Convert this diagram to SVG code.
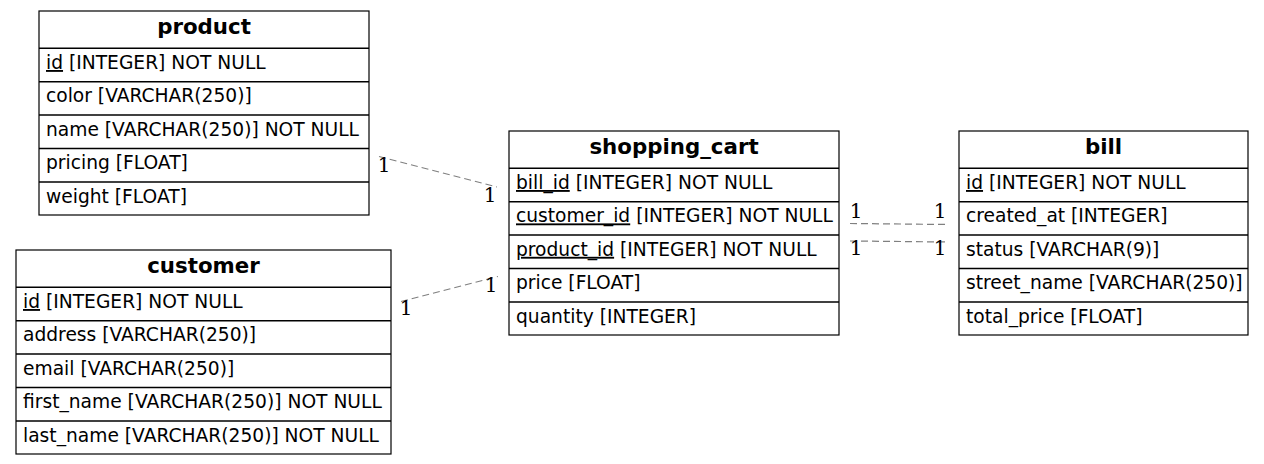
<svg xmlns="http://www.w3.org/2000/svg" width="1264" height="464" viewBox="0 0 1264 464">
<style>
.bg{fill:#ffffff}
.box{fill:#ffffff;stroke:#000000;stroke-width:1.2}
.sep{stroke:#000000;stroke-width:1.5}
.title{font-family:"DejaVu Sans",sans-serif;font-weight:bold;font-size:21.33px;text-anchor:middle;fill:#000}
.row{font-family:"DejaVu Sans",sans-serif;font-size:18.67px;fill:#000}
.key{text-decoration:underline}
.edge{stroke:#808080;stroke-width:1.2;stroke-dasharray:7,4;fill:none}
.card{font-family:"DejaVu Serif",serif;font-size:20px;text-anchor:middle;fill:#000}
</style>
<rect class="bg" x="0" y="0" width="1264" height="464"/>
<g id="connectors">
<line class="edge" x1="379" y1="156.5" x2="497" y2="187"/>
<text class="card" x="384" y="172">1</text>
<text class="card" x="490" y="202">1</text>
<line class="edge" x1="401" y1="301.5" x2="498" y2="276.5"/>
<text class="card" x="406" y="315">1</text>
<text class="card" x="491" y="292">1</text>
<line class="edge" x1="850" y1="223.5" x2="948" y2="224.5"/>
<text class="card" x="856" y="218">1</text>
<text class="card" x="940" y="218">1</text>
<line class="edge" x1="850" y1="241" x2="948" y2="242"/>
<text class="card" x="856" y="255">1</text>
<text class="card" x="940" y="255">1</text>
</g>
<g id="product">
<rect class="box" x="39" y="11" width="330" height="204"/>
<line class="sep" x1="39" y1="48.3" x2="369" y2="48.3"/>
<line class="sep" x1="39" y1="81.7" x2="369" y2="81.7"/>
<line class="sep" x1="39" y1="115.1" x2="369" y2="115.1"/>
<line class="sep" x1="39" y1="148.5" x2="369" y2="148.5"/>
<line class="sep" x1="39" y1="181.9" x2="369" y2="181.9"/>
<text class="title" x="204" y="34">product</text>
<text class="row" x="46" y="69"><tspan class="key">id</tspan> [INTEGER] NOT NULL</text>
<text class="row" x="46" y="102.4">color [VARCHAR(250)]</text>
<text class="row" x="46" y="135.8">name [VARCHAR(250)] NOT NULL</text>
<text class="row" x="46" y="169.2">pricing [FLOAT]</text>
<text class="row" x="46" y="202.6">weight [FLOAT]</text>
</g>
<g id="customer">
<rect class="box" x="16" y="250" width="375" height="204"/>
<line class="sep" x1="16" y1="287.3" x2="391" y2="287.3"/>
<line class="sep" x1="16" y1="320.7" x2="391" y2="320.7"/>
<line class="sep" x1="16" y1="354.1" x2="391" y2="354.1"/>
<line class="sep" x1="16" y1="387.5" x2="391" y2="387.5"/>
<line class="sep" x1="16" y1="420.9" x2="391" y2="420.9"/>
<text class="title" x="203.5" y="273">customer</text>
<text class="row" x="23" y="308"><tspan class="key">id</tspan> [INTEGER] NOT NULL</text>
<text class="row" x="23" y="341.4">address [VARCHAR(250)]</text>
<text class="row" x="23" y="374.8">email [VARCHAR(250)]</text>
<text class="row" x="23" y="408.2">first_name [VARCHAR(250)] NOT NULL</text>
<text class="row" x="23" y="441.6">last_name [VARCHAR(250)] NOT NULL</text>
</g>
<g id="shopping_cart">
<rect class="box" x="509" y="131" width="330" height="204"/>
<line class="sep" x1="509" y1="168.3" x2="839" y2="168.3"/>
<line class="sep" x1="509" y1="201.7" x2="839" y2="201.7"/>
<line class="sep" x1="509" y1="235.1" x2="839" y2="235.1"/>
<line class="sep" x1="509" y1="268.5" x2="839" y2="268.5"/>
<line class="sep" x1="509" y1="301.9" x2="839" y2="301.9"/>
<text class="title" x="674" y="154">shopping_cart</text>
<text class="row" x="516" y="189"><tspan class="key">bill_id</tspan> [INTEGER] NOT NULL</text>
<text class="row" x="516" y="222.4"><tspan class="key">customer_id</tspan> [INTEGER] NOT NULL</text>
<text class="row" x="516" y="255.8"><tspan class="key">product_id</tspan> [INTEGER] NOT NULL</text>
<text class="row" x="516" y="289.2">price [FLOAT]</text>
<text class="row" x="516" y="322.6">quantity [INTEGER]</text>
</g>
<g id="bill">
<rect class="box" x="959" y="131" width="289" height="204"/>
<line class="sep" x1="959" y1="168.3" x2="1248" y2="168.3"/>
<line class="sep" x1="959" y1="201.7" x2="1248" y2="201.7"/>
<line class="sep" x1="959" y1="235.1" x2="1248" y2="235.1"/>
<line class="sep" x1="959" y1="268.5" x2="1248" y2="268.5"/>
<line class="sep" x1="959" y1="301.9" x2="1248" y2="301.9"/>
<text class="title" x="1103.5" y="154">bill</text>
<text class="row" x="966" y="189"><tspan class="key">id</tspan> [INTEGER] NOT NULL</text>
<text class="row" x="966" y="222.4">created_at [INTEGER]</text>
<text class="row" x="966" y="255.8">status [VARCHAR(9)]</text>
<text class="row" x="966" y="289.2">street_name [VARCHAR(250)]</text>
<text class="row" x="966" y="322.6">total_price [FLOAT]</text>
</g>
</svg>
